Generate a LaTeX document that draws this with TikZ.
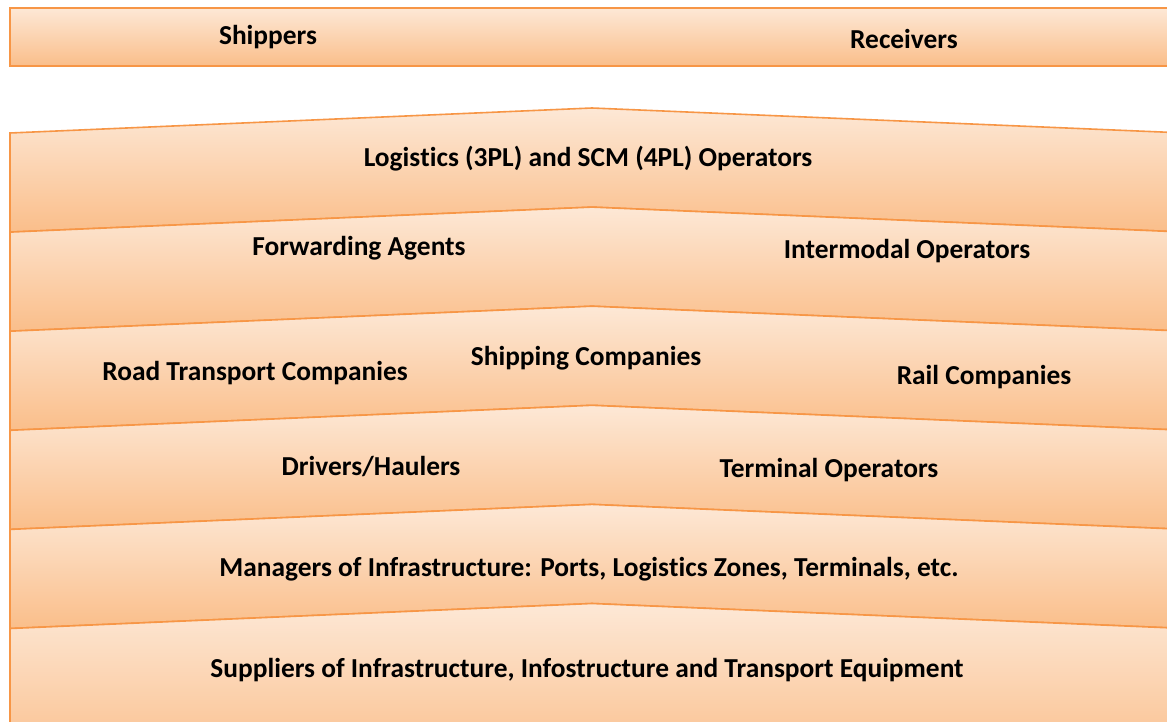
\documentclass[tikz,border=0pt]{standalone}
\usepackage{fontspec}
\setmainfont[Ligatures={NoCommon,NoRare,NoContextual}]{Carlito}
\newcommand{\nolig}{\kern0pt{}}
\definecolor{bandtop}{RGB}{253,232,214}
\definecolor{bandbot}{RGB}{250,190,138}
\definecolor{bandline}{RGB}{247,150,70}
\tikzset{
  band/.style={draw=bandline, line width=1.6pt, top color=bandtop, bottom color=bandbot, line join=miter},
  lbl/.style={font=\fontsize{27.4}{32}\selectfont\bfseries, text=black, inner sep=0pt, anchor=center}
}
\begin{document}
\begin{tikzpicture}[x=1pt,y=-1pt]
\useasboundingbox (0,0) rectangle (1167,722);
\clip (0,0) rectangle (1167,722);
% top band
\draw[band] (10,8) rectangle (1185,66);
% chevron bands
\foreach \i in {0,...,4}{
  \pgfmathsetmacro{\a}{133+99.1*\i}
  \pgfmathsetmacro{\b}{\a+99.1}
  \draw[band] (10,\a) -- (592,\a-25) -- (1185,\a) -- (1185,\b) -- (592,\b-25) -- (10,\b) -- cycle;
}
\pgfmathsetmacro{\a}{133+99.1*5}
\pgfmathsetmacro{\b}{\a+99.1}
\draw[band] (10,\a) -- (592,\a-25) -- (1185,\a) -- (1185,\b+40) -- (592,\b+15) -- (10,\b+40) -- cycle;
\node[lbl] (shippers) at (268,37) {Shippers};
\node[lbl] (receivers) at (904,39) {Receivers};
\node[lbl] (logistics) at (588,159) {Logis\nolig tics (3PL) and SCM (4PL) Operators};
\node[lbl] (forwarding) at (359,248) {Forwarding Agents};
\node[lbl] (intermodal) at (907,251) {Intermodal Operators};
\node[lbl] (road) at (255,373) {Road Transport Companies};
\node[lbl] (shipping) at (586,358) {Shipping Companies};
\node[lbl] (rail) at (984,377) {Rail Companies};
\node[lbl] (drivers) at (371,467) {Drivers/Haulers};
\node[lbl] (terminal) at (829,470) {Terminal Operators};
\node[lbl] (managers) at (589,569) {Managers of Infrastructure: Ports, Logis\nolig tics Zones, Terminals, etc.};
\node[lbl] (suppliers) at (587,670) {Suppliers of Infrastructure, Infostructure and Transport Equipment};
\end{tikzpicture}
\end{document}
